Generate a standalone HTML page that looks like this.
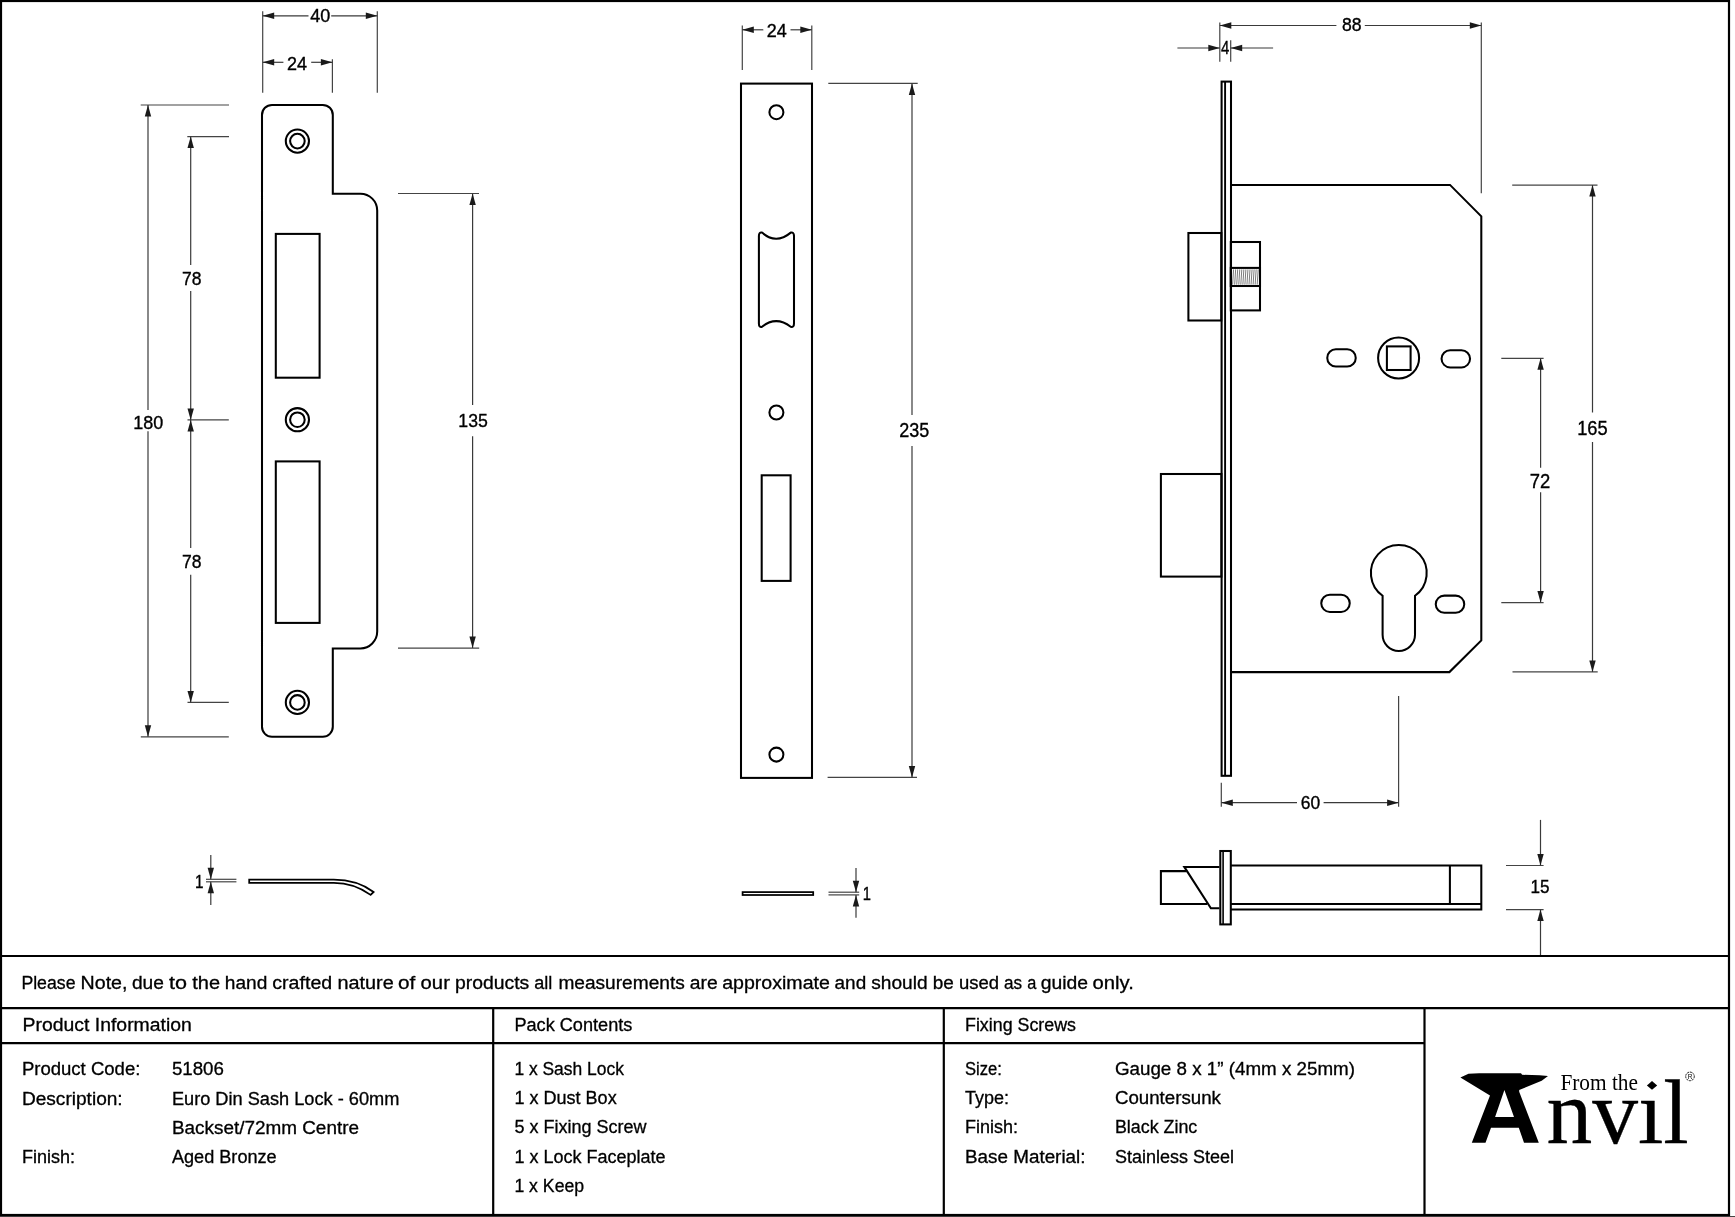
<!DOCTYPE html>
<html><head><meta charset="utf-8"><style>
html,body{margin:0;padding:0;background:#fff;width:1735px;height:1217px;overflow:hidden}
svg{display:block;font-family:"Liberation Sans",sans-serif;will-change:transform}
</style></head><body>
<svg width="1735" height="1217" viewBox="0 0 1735 1217">
<rect width="1735" height="1217" fill="#fff"/>
<line x1="262.70" y1="11.30" x2="262.70" y2="92.70" stroke="#444" stroke-width="1.2"/>
<line x1="377.30" y1="11.30" x2="377.30" y2="92.70" stroke="#444" stroke-width="1.2"/>
<line x1="332.40" y1="59.20" x2="332.40" y2="92.70" stroke="#444" stroke-width="1.2"/>
<line x1="262.70" y1="15.80" x2="308.50" y2="15.80" stroke="#3a3a3a" stroke-width="1.2"/>
<line x1="331.20" y1="15.80" x2="377.30" y2="15.80" stroke="#3a3a3a" stroke-width="1.2"/>
<path d="M262.70,15.80 L274.20,12.60 L274.20,19.00 Z" fill="#1a1a1a"/>
<path d="M377.30,15.80 L365.80,19.00 L365.80,12.60 Z" fill="#1a1a1a"/>
<text x="320.20" y="21.70" font-size="17.59" text-anchor="middle" fill="#000" stroke="#000" stroke-width="0.35" textLength="20.00" lengthAdjust="spacingAndGlyphs">40</text>
<line x1="262.70" y1="62.30" x2="283.40" y2="62.30" stroke="#3a3a3a" stroke-width="1.2"/>
<line x1="311.20" y1="62.30" x2="332.40" y2="62.30" stroke="#3a3a3a" stroke-width="1.2"/>
<path d="M262.70,62.30 L274.20,59.10 L274.20,65.50 Z" fill="#1a1a1a"/>
<path d="M332.40,62.30 L320.90,65.50 L320.90,59.10 Z" fill="#1a1a1a"/>
<text x="297.10" y="70.00" font-size="18.02" text-anchor="middle" fill="#000" stroke="#000" stroke-width="0.35" textLength="20.00" lengthAdjust="spacingAndGlyphs">24</text>
<line x1="140.70" y1="105.00" x2="229.00" y2="105.00" stroke="#444" stroke-width="1.2"/>
<line x1="140.80" y1="736.80" x2="228.80" y2="736.80" stroke="#444" stroke-width="1.2"/>
<line x1="148.00" y1="105.00" x2="148.00" y2="410.00" stroke="#3a3a3a" stroke-width="1.2"/>
<line x1="148.00" y1="431.30" x2="148.00" y2="736.80" stroke="#3a3a3a" stroke-width="1.2"/>
<path d="M148.00,105.00 L151.20,116.50 L144.80,116.50 Z" fill="#1a1a1a"/>
<path d="M148.00,736.80 L144.80,725.30 L151.20,725.30 Z" fill="#1a1a1a"/>
<text x="148.30" y="429.00" font-size="17.73" text-anchor="middle" fill="#000" stroke="#000" stroke-width="0.35" textLength="30.00" lengthAdjust="spacingAndGlyphs">180</text>
<line x1="187.30" y1="136.60" x2="229.00" y2="136.60" stroke="#444" stroke-width="1.2"/>
<line x1="187.50" y1="419.90" x2="228.80" y2="419.90" stroke="#444" stroke-width="1.2"/>
<line x1="187.50" y1="702.40" x2="228.80" y2="702.40" stroke="#444" stroke-width="1.2"/>
<line x1="190.70" y1="136.60" x2="190.70" y2="265.00" stroke="#3a3a3a" stroke-width="1.2"/>
<line x1="190.70" y1="291.00" x2="190.70" y2="419.90" stroke="#3a3a3a" stroke-width="1.2"/>
<path d="M190.70,136.60 L193.90,148.10 L187.50,148.10 Z" fill="#1a1a1a"/>
<path d="M190.70,419.90 L187.50,408.40 L193.90,408.40 Z" fill="#1a1a1a"/>
<text x="191.70" y="285.00" font-size="18.60" text-anchor="middle" fill="#000" stroke="#000" stroke-width="0.35" textLength="19.50" lengthAdjust="spacingAndGlyphs">78</text>
<line x1="190.70" y1="419.90" x2="190.70" y2="548.00" stroke="#3a3a3a" stroke-width="1.2"/>
<line x1="190.70" y1="574.80" x2="190.70" y2="702.40" stroke="#3a3a3a" stroke-width="1.2"/>
<path d="M190.70,419.90 L193.90,431.40 L187.50,431.40 Z" fill="#1a1a1a"/>
<path d="M190.70,702.40 L187.50,690.90 L193.90,690.90 Z" fill="#1a1a1a"/>
<text x="191.70" y="568.20" font-size="18.90" text-anchor="middle" fill="#000" stroke="#000" stroke-width="0.35" textLength="19.50" lengthAdjust="spacingAndGlyphs">78</text>
<line x1="398.00" y1="193.50" x2="479.00" y2="193.50" stroke="#444" stroke-width="1.2"/>
<line x1="398.00" y1="648.10" x2="479.20" y2="648.10" stroke="#444" stroke-width="1.2"/>
<line x1="472.60" y1="193.50" x2="472.60" y2="405.00" stroke="#3a3a3a" stroke-width="1.2"/>
<line x1="472.60" y1="436.30" x2="472.60" y2="648.10" stroke="#3a3a3a" stroke-width="1.2"/>
<path d="M472.60,193.50 L475.80,205.00 L469.40,205.00 Z" fill="#1a1a1a"/>
<path d="M472.60,648.10 L469.40,636.60 L475.80,636.60 Z" fill="#1a1a1a"/>
<text x="473.10" y="426.90" font-size="17.88" text-anchor="middle" fill="#000" stroke="#000" stroke-width="0.35" textLength="29.50" lengthAdjust="spacingAndGlyphs">135</text>
<path d="M262.0,114.9 A10,10 0 0 1 272.0,104.9 L322.8,104.9 A10,10 0 0 1 332.8,114.9 L332.8,193.7 L360.4,193.7 A16.8,16.8 0 0 1 377.2,210.5 L377.2,631.6 A16.8,16.8 0 0 1 360.4,648.4 L332.8,648.4 L332.8,726.8 A10,10 0 0 1 322.8,736.8 L272.0,736.8 A10,10 0 0 1 262.0,726.8 Z" stroke="#000" stroke-width="2.05" fill="none" stroke-linejoin="miter" stroke-miterlimit="2.5"/>
<circle cx="297.4" cy="141.1" r="11.6" stroke="#000" stroke-width="2.05" fill="none" stroke-linejoin="miter" stroke-miterlimit="2.5" stroke-width="2"/>
<circle cx="297.4" cy="141.1" r="7.3" stroke="#000" stroke-width="2.05" fill="none" stroke-linejoin="miter" stroke-miterlimit="2.5" stroke-width="2"/>
<circle cx="297.4" cy="419.7" r="11.6" stroke="#000" stroke-width="2.05" fill="none" stroke-linejoin="miter" stroke-miterlimit="2.5" stroke-width="2"/>
<circle cx="297.4" cy="419.7" r="7.3" stroke="#000" stroke-width="2.05" fill="none" stroke-linejoin="miter" stroke-miterlimit="2.5" stroke-width="2"/>
<circle cx="297.4" cy="702.4" r="11.6" stroke="#000" stroke-width="2.05" fill="none" stroke-linejoin="miter" stroke-miterlimit="2.5" stroke-width="2"/>
<circle cx="297.4" cy="702.4" r="7.3" stroke="#000" stroke-width="2.05" fill="none" stroke-linejoin="miter" stroke-miterlimit="2.5" stroke-width="2"/>
<rect x="275.8" y="233.9" width="43.8" height="143.8" stroke="#000" stroke-width="2.05" fill="none" stroke-linejoin="miter" stroke-miterlimit="2.5"/>
<rect x="275.8" y="461.4" width="43.8" height="161.5" stroke="#000" stroke-width="2.05" fill="none" stroke-linejoin="miter" stroke-miterlimit="2.5"/>
<path d="M249.2,879.7 L333.8,879.7 C348,879.7 362,883.5 373.6,892 L370.6,894.9 C359.5,886.8 346.5,882.8 333.8,882.8 L249.2,882.8 Z" stroke="#000" stroke-width="1.75" fill="none"/>
<line x1="206.00" y1="879.30" x2="236.40" y2="879.30" stroke="#444" stroke-width="1.2"/>
<line x1="206.00" y1="881.80" x2="236.40" y2="881.80" stroke="#444" stroke-width="1.2"/>
<line x1="210.80" y1="855.00" x2="210.80" y2="879.30" stroke="#3a3a3a" stroke-width="1.2"/>
<line x1="210.80" y1="881.80" x2="210.80" y2="905.00" stroke="#3a3a3a" stroke-width="1.2"/>
<path d="M210.80,879.30 L207.60,867.80 L214.00,867.80 Z" fill="#1a1a1a"/>
<path d="M210.80,881.80 L214.00,893.30 L207.60,893.30 Z" fill="#1a1a1a"/>
<text x="199.30" y="888.00" font-size="17.44" text-anchor="middle" fill="#000" stroke="#000" stroke-width="0.35" textLength="8.50" lengthAdjust="spacingAndGlyphs">1</text>
<line x1="742.30" y1="25.40" x2="742.30" y2="70.00" stroke="#444" stroke-width="1.2"/>
<line x1="811.80" y1="25.40" x2="811.80" y2="70.00" stroke="#444" stroke-width="1.2"/>
<line x1="742.30" y1="29.80" x2="763.30" y2="29.80" stroke="#3a3a3a" stroke-width="1.2"/>
<line x1="790.50" y1="29.80" x2="811.80" y2="29.80" stroke="#3a3a3a" stroke-width="1.2"/>
<path d="M742.30,29.80 L753.80,26.60 L753.80,33.00 Z" fill="#1a1a1a"/>
<path d="M811.80,29.80 L800.30,33.00 L800.30,26.60 Z" fill="#1a1a1a"/>
<text x="776.80" y="36.80" font-size="18.17" text-anchor="middle" fill="#000" stroke="#000" stroke-width="0.35" textLength="20.00" lengthAdjust="spacingAndGlyphs">24</text>
<rect x="741.0" y="83.6" width="71" height="694.3" stroke="#000" stroke-width="2.05" fill="none" stroke-linejoin="miter" stroke-miterlimit="2.5"/>
<circle cx="776.4" cy="112.2" r="7" stroke="#000" stroke-width="2.05" fill="none" stroke-linejoin="miter" stroke-miterlimit="2.5" stroke-width="2"/>
<circle cx="776.4" cy="412.5" r="7" stroke="#000" stroke-width="2.05" fill="none" stroke-linejoin="miter" stroke-miterlimit="2.5" stroke-width="2"/>
<circle cx="776.4" cy="754.6" r="7" stroke="#000" stroke-width="2.05" fill="none" stroke-linejoin="miter" stroke-miterlimit="2.5" stroke-width="2"/>
<path transform="translate(-0.5,0)" d="M759.4,236 Q759.4,232 762.5,232.6 Q776.6,245 791.2,232.6 Q794.5,232 794.5,236 L794.5,323.5 Q794.5,327.6 791.2,326.8 Q776.6,315.5 762.5,326.8 Q759.4,327.6 759.4,323.5 Z" stroke="#000" stroke-width="2.05" fill="none" stroke-linejoin="miter" stroke-miterlimit="2.5" stroke-width="2"/>
<rect x="761.7" y="475.3" width="28.9" height="105.6" stroke="#000" stroke-width="2.05" fill="none" stroke-linejoin="miter" stroke-miterlimit="2.5" stroke-width="2"/>
<line x1="828.30" y1="83.40" x2="917.70" y2="83.40" stroke="#444" stroke-width="1.2"/>
<line x1="827.60" y1="777.40" x2="917.00" y2="777.40" stroke="#444" stroke-width="1.2"/>
<line x1="912.00" y1="83.40" x2="912.00" y2="415.00" stroke="#3a3a3a" stroke-width="1.2"/>
<line x1="912.00" y1="446.00" x2="912.00" y2="777.40" stroke="#3a3a3a" stroke-width="1.2"/>
<path d="M912.00,83.40 L915.20,94.90 L908.80,94.90 Z" fill="#1a1a1a"/>
<path d="M912.00,777.40 L908.80,765.90 L915.20,765.90 Z" fill="#1a1a1a"/>
<text x="914.20" y="437.30" font-size="19.33" text-anchor="middle" fill="#000" stroke="#000" stroke-width="0.35" textLength="30.00" lengthAdjust="spacingAndGlyphs">235</text>
<rect x="742.6" y="892.1" width="70.6" height="2.9" stroke="#000" stroke-width="1.75" fill="none"/>
<line x1="828.50" y1="892.20" x2="859.20" y2="892.20" stroke="#444" stroke-width="1.2"/>
<line x1="828.50" y1="894.90" x2="859.20" y2="894.90" stroke="#444" stroke-width="1.2"/>
<line x1="856.00" y1="868.00" x2="856.00" y2="892.20" stroke="#3a3a3a" stroke-width="1.2"/>
<line x1="856.00" y1="894.90" x2="856.00" y2="917.80" stroke="#3a3a3a" stroke-width="1.2"/>
<path d="M856.00,892.20 L852.80,880.70 L859.20,880.70 Z" fill="#1a1a1a"/>
<path d="M856.00,894.90 L859.20,906.40 L852.80,906.40 Z" fill="#1a1a1a"/>
<text x="866.90" y="899.70" font-size="17.44" text-anchor="middle" fill="#000" stroke="#000" stroke-width="0.35" textLength="8.20" lengthAdjust="spacingAndGlyphs">1</text>
<line x1="1219.80" y1="22.50" x2="1219.80" y2="61.70" stroke="#444" stroke-width="1.2"/>
<line x1="1481.30" y1="22.50" x2="1481.30" y2="193.20" stroke="#444" stroke-width="1.2"/>
<line x1="1230.70" y1="40.20" x2="1230.70" y2="61.70" stroke="#444" stroke-width="1.2"/>
<line x1="1219.80" y1="25.50" x2="1336.40" y2="25.50" stroke="#3a3a3a" stroke-width="1.2"/>
<line x1="1364.80" y1="25.50" x2="1481.30" y2="25.50" stroke="#3a3a3a" stroke-width="1.2"/>
<path d="M1219.80,25.50 L1231.30,22.30 L1231.30,28.70 Z" fill="#1a1a1a"/>
<path d="M1481.30,25.50 L1469.80,28.70 L1469.80,22.30 Z" fill="#1a1a1a"/>
<text x="1351.70" y="31.00" font-size="17.73" text-anchor="middle" fill="#000" stroke="#000" stroke-width="0.35" textLength="19.60" lengthAdjust="spacingAndGlyphs">88</text>
<line x1="1177.40" y1="48.00" x2="1219.80" y2="48.00" stroke="#3a3a3a" stroke-width="1.2"/>
<line x1="1230.70" y1="48.00" x2="1273.10" y2="48.00" stroke="#3a3a3a" stroke-width="1.2"/>
<path d="M1219.80,48.00 L1208.30,51.20 L1208.30,44.80 Z" fill="#1a1a1a"/>
<path d="M1230.70,48.00 L1242.20,44.80 L1242.20,51.20 Z" fill="#1a1a1a"/>
<text x="1225.20" y="53.90" font-size="18.46" text-anchor="middle" fill="#000" stroke="#000" stroke-width="0.35" textLength="8.30" lengthAdjust="spacingAndGlyphs">4</text>
<rect x="1221.6" y="81.6" width="9.4" height="694.2" stroke="#000" stroke-width="2.05" fill="none" stroke-linejoin="miter" stroke-miterlimit="2.5"/>
<line x1="1225.10" y1="81.60" x2="1225.10" y2="775.80" stroke="#000" stroke-width="1.9"/>
<path d="M1230.8,184.9 L1450,184.9 L1481.3,216.3 L1481.3,640.4 L1449.4,672.1 L1230.8,672.1" stroke="#000" stroke-width="2.05" fill="none" stroke-linejoin="miter" stroke-miterlimit="2.5"/>
<rect x="1188.4" y="233.0" width="32.9" height="87.5" stroke="#000" stroke-width="2.05" fill="none" stroke-linejoin="miter" stroke-miterlimit="2.5"/>
<rect x="1230.8" y="242.0" width="29.2" height="68.4" stroke="#000" stroke-width="2.05" fill="none" stroke-linejoin="miter" stroke-miterlimit="2.5"/>
<rect x="1230.8" y="267.9" width="29.2" height="18.1" stroke="#000" stroke-width="2.05" fill="none" stroke-linejoin="miter" stroke-miterlimit="2.5"/>
<path d="M1233.60,269.4 L1232.60,284.6 M1235.65,269.4 L1234.65,284.6 M1237.70,269.4 L1236.70,284.6 M1239.75,269.4 L1238.75,284.6 M1241.80,269.4 L1240.80,284.6 M1243.85,269.4 L1242.85,284.6 M1245.90,269.4 L1244.90,284.6 M1247.95,269.4 L1246.95,284.6 M1250.00,269.4 L1249.00,284.6 M1252.05,269.4 L1251.05,284.6 M1254.10,269.4 L1253.10,284.6 M1256.15,269.4 L1255.15,284.6 M1258.20,269.4 L1257.20,284.6 " stroke="#444" stroke-width="0.7" fill="none"/>
<rect x="1327.25" y="349.30" width="28.5" height="17.2" rx="8.6" stroke="#000" stroke-width="2.05" fill="none" stroke-linejoin="miter" stroke-miterlimit="2.5" stroke-width="2"/>
<rect x="1441.55" y="350.20" width="28.5" height="17.2" rx="8.6" stroke="#000" stroke-width="2.05" fill="none" stroke-linejoin="miter" stroke-miterlimit="2.5" stroke-width="2"/>
<rect x="1321.25" y="594.70" width="28.5" height="17.2" rx="8.6" stroke="#000" stroke-width="2.05" fill="none" stroke-linejoin="miter" stroke-miterlimit="2.5" stroke-width="2"/>
<rect x="1435.75" y="595.60" width="28.5" height="17.2" rx="8.6" stroke="#000" stroke-width="2.05" fill="none" stroke-linejoin="miter" stroke-miterlimit="2.5" stroke-width="2"/>
<circle cx="1398.6" cy="358" r="20.5" stroke="#000" stroke-width="2.05" fill="none" stroke-linejoin="miter" stroke-miterlimit="2.5"/>
<rect x="1386.9" y="346.4" width="23.7" height="23.6" stroke="#000" stroke-width="2.05" fill="none" stroke-linejoin="miter" stroke-miterlimit="2.5"/>
<path d="M1382.6,595.71 A27.9,27.9 0 1 1 1415.0,595.71 L1415.0,634.8 A16.2,16.2 0 0 1 1382.6,634.8 Z" stroke="#000" stroke-width="2.05" fill="none" stroke-linejoin="miter" stroke-miterlimit="2.5"/>
<rect x="1160.9" y="474.0" width="60.5" height="102.6" stroke="#000" stroke-width="2.05" fill="none" stroke-linejoin="miter" stroke-miterlimit="2.5"/>
<line x1="1512.20" y1="185.10" x2="1597.50" y2="185.10" stroke="#444" stroke-width="1.2"/>
<line x1="1512.50" y1="671.90" x2="1597.70" y2="671.90" stroke="#444" stroke-width="1.2"/>
<line x1="1592.50" y1="185.10" x2="1592.50" y2="412.50" stroke="#3a3a3a" stroke-width="1.2"/>
<line x1="1592.50" y1="442.00" x2="1592.50" y2="671.90" stroke="#3a3a3a" stroke-width="1.2"/>
<path d="M1592.50,185.10 L1595.70,196.60 L1589.30,196.60 Z" fill="#1a1a1a"/>
<path d="M1592.50,671.90 L1589.30,660.40 L1595.70,660.40 Z" fill="#1a1a1a"/>
<text x="1592.40" y="435.20" font-size="19.91" text-anchor="middle" fill="#000" stroke="#000" stroke-width="0.35" textLength="30.50" lengthAdjust="spacingAndGlyphs">165</text>
<line x1="1501.30" y1="358.30" x2="1543.60" y2="358.30" stroke="#444" stroke-width="1.2"/>
<line x1="1501.30" y1="602.60" x2="1543.60" y2="602.60" stroke="#444" stroke-width="1.2"/>
<line x1="1540.60" y1="358.30" x2="1540.60" y2="467.80" stroke="#3a3a3a" stroke-width="1.2"/>
<line x1="1540.60" y1="492.30" x2="1540.60" y2="602.60" stroke="#3a3a3a" stroke-width="1.2"/>
<path d="M1540.60,358.30 L1543.80,369.80 L1537.40,369.80 Z" fill="#1a1a1a"/>
<path d="M1540.60,602.60 L1537.40,591.10 L1543.80,591.10 Z" fill="#1a1a1a"/>
<text x="1540.00" y="487.90" font-size="20.35" text-anchor="middle" fill="#000" stroke="#000" stroke-width="0.35" textLength="20.50" lengthAdjust="spacingAndGlyphs">72</text>
<line x1="1221.30" y1="782.70" x2="1221.30" y2="806.80" stroke="#444" stroke-width="1.2"/>
<line x1="1398.60" y1="695.90" x2="1398.60" y2="806.80" stroke="#444" stroke-width="1.2"/>
<line x1="1221.30" y1="802.70" x2="1297.00" y2="802.70" stroke="#3a3a3a" stroke-width="1.2"/>
<line x1="1323.60" y1="802.70" x2="1398.60" y2="802.70" stroke="#3a3a3a" stroke-width="1.2"/>
<path d="M1221.30,802.70 L1232.80,799.50 L1232.80,805.90 Z" fill="#1a1a1a"/>
<path d="M1398.60,802.70 L1387.10,805.90 L1387.10,799.50 Z" fill="#1a1a1a"/>
<text x="1310.50" y="808.70" font-size="18.17" text-anchor="middle" fill="#000" stroke="#000" stroke-width="0.35" textLength="19.40" lengthAdjust="spacingAndGlyphs">60</text>
<rect x="1220.3" y="851" width="10.5" height="73.4" stroke="#000" stroke-width="2.05" fill="none" stroke-linejoin="miter" stroke-miterlimit="2.5"/>
<line x1="1223.10" y1="851.00" x2="1223.10" y2="924.40" stroke="#000" stroke-width="1.6"/>
<path d="M1230.8,865.4 L1481.3,865.4 L1481.3,909.5 L1230.8,909.5 M1230.8,904.0 L1481.3,904.0 M1449.9,865.6 L1449.9,903.8" stroke="#000" stroke-width="2.05" fill="none" stroke-linejoin="miter" stroke-miterlimit="2.5"/>
<path d="M1186.5,871.1 L1160.9,871.1 L1160.9,904.0 L1207.2,904.0" stroke="#000" stroke-width="2.05" fill="none" stroke-linejoin="miter" stroke-miterlimit="2.5"/>
<path d="M1219.4,866.9 L1184.3,866.9 L1210.9,908.2 L1219.4,908.2" stroke="#000" stroke-width="2.05" fill="none" stroke-linejoin="miter" stroke-miterlimit="2.5"/>
<line x1="1506.00" y1="865.50" x2="1543.60" y2="865.50" stroke="#444" stroke-width="1.2"/>
<line x1="1506.00" y1="909.60" x2="1543.60" y2="909.60" stroke="#444" stroke-width="1.2"/>
<line x1="1540.50" y1="819.90" x2="1540.50" y2="865.50" stroke="#3a3a3a" stroke-width="1.2"/>
<line x1="1540.50" y1="909.60" x2="1540.50" y2="956.00" stroke="#3a3a3a" stroke-width="1.2"/>
<path d="M1540.50,865.50 L1537.30,854.00 L1543.70,854.00 Z" fill="#1a1a1a"/>
<path d="M1540.50,909.60 L1543.70,921.10 L1537.30,921.10 Z" fill="#1a1a1a"/>
<text x="1539.90" y="892.90" font-size="18.17" text-anchor="middle" fill="#000" stroke="#000" stroke-width="0.35" textLength="19.00" lengthAdjust="spacingAndGlyphs">15</text>
<line x1="0" y1="956" x2="1729" y2="956" stroke="#000" stroke-width="2.2"/>
<line x1="0" y1="1008.1" x2="1729" y2="1008.1" stroke="#000" stroke-width="2.2"/>
<line x1="0" y1="1043.2" x2="1424.5" y2="1043.2" stroke="#000" stroke-width="2.2"/>
<line x1="493.2" y1="1008.1" x2="493.2" y2="1215" stroke="#000" stroke-width="2.2"/>
<line x1="943.8" y1="1008.1" x2="943.8" y2="1215" stroke="#000" stroke-width="2.2"/>
<line x1="1424.5" y1="1008.1" x2="1424.5" y2="1215" stroke="#000" stroke-width="2.2"/>
<text x="21.4" y="988.7" font-size="17.6" textLength="54.10" lengthAdjust="spacingAndGlyphs" fill="#000" stroke="#000" stroke-width="0.3">Please</text>
<text x="80.6" y="988.7" font-size="17.6" textLength="46.90" lengthAdjust="spacingAndGlyphs" fill="#000" stroke="#000" stroke-width="0.3">Note,</text>
<text x="131.9" y="988.7" font-size="17.6" textLength="32.00" lengthAdjust="spacingAndGlyphs" fill="#000" stroke="#000" stroke-width="0.3">due</text>
<text x="169.1" y="988.7" font-size="17.6" textLength="18.00" lengthAdjust="spacingAndGlyphs" fill="#000" stroke="#000" stroke-width="0.3">to</text>
<text x="192.3" y="988.7" font-size="17.6" textLength="27.80" lengthAdjust="spacingAndGlyphs" fill="#000" stroke="#000" stroke-width="0.3">the</text>
<text x="224.8" y="988.7" font-size="17.6" textLength="42.50" lengthAdjust="spacingAndGlyphs" fill="#000" stroke="#000" stroke-width="0.3">hand</text>
<text x="272.3" y="988.7" font-size="17.6" textLength="59.90" lengthAdjust="spacingAndGlyphs" fill="#000" stroke="#000" stroke-width="0.3">crafted</text>
<text x="337.4" y="988.7" font-size="17.6" textLength="56.30" lengthAdjust="spacingAndGlyphs" fill="#000" stroke="#000" stroke-width="0.3">nature</text>
<text x="398.1" y="988.7" font-size="17.6" textLength="17.30" lengthAdjust="spacingAndGlyphs" fill="#000" stroke="#000" stroke-width="0.3">of</text>
<text x="420.6" y="988.7" font-size="17.6" textLength="29.30" lengthAdjust="spacingAndGlyphs" fill="#000" stroke="#000" stroke-width="0.3">our</text>
<text x="455.0" y="988.7" font-size="17.6" textLength="74.30" lengthAdjust="spacingAndGlyphs" fill="#000" stroke="#000" stroke-width="0.3">products</text>
<text x="534.2" y="988.7" font-size="17.6" textLength="18.10" lengthAdjust="spacingAndGlyphs" fill="#000" stroke="#000" stroke-width="0.3">all</text>
<text x="558.4" y="988.7" font-size="17.6" textLength="126.40" lengthAdjust="spacingAndGlyphs" fill="#000" stroke="#000" stroke-width="0.3">measurements</text>
<text x="689.8" y="988.7" font-size="17.6" textLength="27.90" lengthAdjust="spacingAndGlyphs" fill="#000" stroke="#000" stroke-width="0.3">are</text>
<text x="722.2" y="988.7" font-size="17.6" textLength="107.70" lengthAdjust="spacingAndGlyphs" fill="#000" stroke="#000" stroke-width="0.3">approximate</text>
<text x="834.6" y="988.7" font-size="17.6" textLength="31.60" lengthAdjust="spacingAndGlyphs" fill="#000" stroke="#000" stroke-width="0.3">and</text>
<text x="871.3" y="988.7" font-size="17.6" textLength="56.30" lengthAdjust="spacingAndGlyphs" fill="#000" stroke="#000" stroke-width="0.3">should</text>
<text x="932.7" y="988.7" font-size="17.6" textLength="21.10" lengthAdjust="spacingAndGlyphs" fill="#000" stroke="#000" stroke-width="0.3">be</text>
<text x="958.9" y="988.7" font-size="17.6" textLength="40.10" lengthAdjust="spacingAndGlyphs" fill="#000" stroke="#000" stroke-width="0.3">used</text>
<text x="1004.1" y="988.7" font-size="17.6" textLength="18.10" lengthAdjust="spacingAndGlyphs" fill="#000" stroke="#000" stroke-width="0.3">as</text>
<text x="1027.3" y="988.7" font-size="17.6" textLength="9.10" lengthAdjust="spacingAndGlyphs" fill="#000" stroke="#000" stroke-width="0.3">a</text>
<text x="1040.8" y="988.7" font-size="17.6" textLength="47.30" lengthAdjust="spacingAndGlyphs" fill="#000" stroke="#000" stroke-width="0.3">guide</text>
<text x="1092.5" y="988.7" font-size="17.6" textLength="41.30" lengthAdjust="spacingAndGlyphs" fill="#000" stroke="#000" stroke-width="0.3">only.</text>
<text x="22.6" y="1030.6" font-size="17.6" textLength="169.20" lengthAdjust="spacingAndGlyphs" fill="#000" stroke="#000" stroke-width="0.3">Product Information</text>
<text x="514.4" y="1031" font-size="17.6" textLength="118.00" lengthAdjust="spacingAndGlyphs" fill="#000" stroke="#000" stroke-width="0.3">Pack Contents</text>
<text x="965" y="1031.4" font-size="17.6" textLength="111.00" lengthAdjust="spacingAndGlyphs" fill="#000" stroke="#000" stroke-width="0.3">Fixing Screws</text>
<text x="21.9" y="1075.1" font-size="17.6" textLength="118.50" lengthAdjust="spacingAndGlyphs" fill="#000" stroke="#000" stroke-width="0.3">Product Code:</text>
<text x="171.9" y="1075.1" font-size="17.6" textLength="52.00" lengthAdjust="spacingAndGlyphs" fill="#000" stroke="#000" stroke-width="0.3">51806</text>
<text x="21.9" y="1104.9" font-size="17.6" textLength="100.80" lengthAdjust="spacingAndGlyphs" fill="#000" stroke="#000" stroke-width="0.3">Description:</text>
<text x="171.9" y="1104.9" font-size="17.6" textLength="227.50" lengthAdjust="spacingAndGlyphs" fill="#000" stroke="#000" stroke-width="0.3">Euro Din Sash Lock - 60mm</text>
<text x="171.9" y="1133.7" font-size="17.6" textLength="187.10" lengthAdjust="spacingAndGlyphs" fill="#000" stroke="#000" stroke-width="0.3">Backset/72mm Centre</text>
<text x="21.9" y="1162.7" font-size="17.6" textLength="53.10" lengthAdjust="spacingAndGlyphs" fill="#000" stroke="#000" stroke-width="0.3">Finish:</text>
<text x="171.9" y="1162.7" font-size="17.6" textLength="104.80" lengthAdjust="spacingAndGlyphs" fill="#000" stroke="#000" stroke-width="0.3">Aged Bronze</text>
<text x="514.4" y="1074.7" font-size="17.6" textLength="109.50" lengthAdjust="spacingAndGlyphs" fill="#000" stroke="#000" stroke-width="0.3">1 x Sash Lock</text>
<text x="514.4" y="1103.9" font-size="17.6" textLength="102.30" lengthAdjust="spacingAndGlyphs" fill="#000" stroke="#000" stroke-width="0.3">1 x Dust Box</text>
<text x="514.4" y="1133" font-size="17.6" textLength="132.00" lengthAdjust="spacingAndGlyphs" fill="#000" stroke="#000" stroke-width="0.3">5 x Fixing Screw</text>
<text x="514.4" y="1162.7" font-size="17.6" textLength="151.10" lengthAdjust="spacingAndGlyphs" fill="#000" stroke="#000" stroke-width="0.3">1 x Lock Faceplate</text>
<text x="514.4" y="1191.9" font-size="17.6" textLength="69.70" lengthAdjust="spacingAndGlyphs" fill="#000" stroke="#000" stroke-width="0.3">1 x Keep</text>
<text x="965" y="1075" font-size="17.6" textLength="37.00" lengthAdjust="spacingAndGlyphs" fill="#000" stroke="#000" stroke-width="0.3">Size:</text>
<text x="1114.9" y="1075" font-size="17.6" textLength="240.10" lengthAdjust="spacingAndGlyphs" fill="#000" stroke="#000" stroke-width="0.3">Gauge 8 x 1” (4mm x 25mm)</text>
<text x="965" y="1104.4" font-size="17.6" textLength="44.00" lengthAdjust="spacingAndGlyphs" fill="#000" stroke="#000" stroke-width="0.3">Type:</text>
<text x="1114.9" y="1104.4" font-size="17.6" textLength="106.10" lengthAdjust="spacingAndGlyphs" fill="#000" stroke="#000" stroke-width="0.3">Countersunk</text>
<text x="965" y="1132.7" font-size="17.6" textLength="53.00" lengthAdjust="spacingAndGlyphs" fill="#000" stroke="#000" stroke-width="0.3">Finish:</text>
<text x="1114.9" y="1132.7" font-size="17.6" textLength="82.40" lengthAdjust="spacingAndGlyphs" fill="#000" stroke="#000" stroke-width="0.3">Black Zinc</text>
<text x="965" y="1162.9" font-size="17.6" textLength="120.50" lengthAdjust="spacingAndGlyphs" fill="#000" stroke="#000" stroke-width="0.3">Base Material:</text>
<text x="1114.9" y="1162.9" font-size="17.6" textLength="119.10" lengthAdjust="spacingAndGlyphs" fill="#000" stroke="#000" stroke-width="0.3">Stainless Steel</text>
<path d="M1460.4,1077.4 L1468.5,1073.7 L1479.2,1073.2 L1521,1073.2 L1522.1,1074.8 L1539.5,1075.2 L1548,1076.1 L1541.7,1080.7 L1519.2,1090 L1519.2,1091.8 L1538.8,1142.8 L1524,1142.8 L1518.8,1127.7 L1491,1127.7 L1485.5,1142.8 L1471.8,1142.8 L1490,1095.5 Z M1504.4,1090 L1495.1,1117 L1514,1117 Z" fill="#000" fill-rule="evenodd"/>
<text x="1560.4" y="1090.0" font-family="Liberation Serif" font-size="22.8" textLength="77.6" lengthAdjust="spacingAndGlyphs" fill="#000">From the</text>
<text x="1546.4" y="1142.7" font-family="Liberation Serif" font-size="91" textLength="142.4" lengthAdjust="spacingAndGlyphs" fill="#000" stroke="#000" stroke-width="0.3">nvıl</text>
<path d="M1652,1081 L1657.2,1085.4 L1652,1089.8 L1646.9,1085.4 Z" fill="#000"/>
<circle cx="1690" cy="1076.4" r="4.3" stroke="#000" stroke-width="0.9" fill="none" stroke-dasharray="2 0.8"/>
<text x="1690" y="1078.8" font-size="6.5" text-anchor="middle" fill="#000">R</text>
<rect x="0" y="1216" width="1735" height="1" fill="#444"/>
<rect x="1" y="1" width="1728" height="1214" fill="none" stroke="#000" stroke-width="2.2"/>
</svg>
</body></html>
